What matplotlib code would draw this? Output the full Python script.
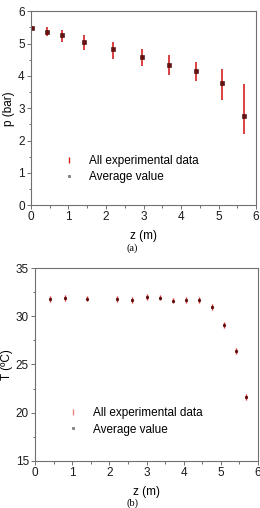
import numpy as np
import matplotlib.pyplot as plt
from matplotlib.lines import Line2D

# pressure profile (a)
z_p = [0.02, 0.42, 0.82, 1.41, 2.19, 2.97, 3.69, 4.40, 5.09, 5.69]
p_avg = [5.48, 5.36, 5.25, 5.04, 4.82, 4.57, 4.35, 4.15, 3.77, 2.75]
p_min = [5.43, 5.22, 5.06, 4.80, 4.52, 4.32, 4.04, 3.85, 3.26, 2.20]
p_max = [5.53, 5.50, 5.41, 5.25, 5.06, 4.82, 4.64, 4.43, 4.22, 3.74]

# temperature profile (b)
z_T = [0.40, 0.81, 1.40, 2.20, 2.60, 3.00, 3.35, 3.70, 4.05, 4.40, 4.76, 5.10, 5.42, 5.69]
T_avg = [31.78, 31.88, 31.85, 31.82, 31.67, 32.02, 31.95, 31.64, 31.67, 31.67, 30.98, 29.10, 26.44, 21.60]
T_min = [t - 0.3 for t in T_avg]
T_max = [t + 0.3 for t in T_avg]

plt.rcParams['font.family'] = ['Liberation Sans', 'DejaVu Sans']
fs = 8.5
grey = '#707070'

fig = plt.figure(figsize=(2.6, 5.08), dpi=100)
ax1 = fig.add_axes([0.119, 0.596, 0.866, 0.382])
ax2 = fig.add_axes([0.135, 0.093, 0.857, 0.379])


def style(ax):
    for s in ax.spines.values():
        s.set_color(grey)
        s.set_linewidth(0.8)
    ax.tick_params(which='both', direction='out', colors=grey, labelcolor='#1a1a1a',
                   labelsize=fs, width=0.7, pad=1.5)
    ax.tick_params(which='major', length=3)
    ax.tick_params(which='minor', length=1.8)
    ax.set_xlim(0, 6)
    ax.set_xticks(np.arange(0, 7, 1))
    ax.set_xticks(np.arange(0.5, 6, 1), minor=True)


def legend(ax, y0, red):
    handles = [Line2D([], [], ls='none', marker='|', ms=4, mew=1.0, color=red),
               Line2D([], [], ls='none', marker='s', ms=2, mfc='#888888', mec='#555555', mew=0.4)]
    ax.legend(handles, ['All experimental data', 'Average value'],
              loc='lower left', bbox_to_anchor=(0.115, y0), frameon=False, fontsize=fs,
              handlelength=1.0, handletextpad=1.2, labelspacing=0.35, borderpad=0)


# (a)
ax1.vlines(z_p, p_min, p_max, color='#d62020', lw=1.2)
ax1.plot(z_p, p_avg, 's', ms=2.2, mfc='#6a0e0e', mec='#3a0a0a', mew=0.4, ls='none')
style(ax1)
ax1.set_ylim(0, 6)
ax1.set_yticks(np.arange(0, 7, 1))
ax1.set_yticks(np.arange(0.5, 6, 1), minor=True)
ax1.set_xlabel('z (m)', fontsize=fs, labelpad=5)
ax1.set_ylabel('p (bar)', fontsize=fs, labelpad=2)
legend(ax1, 0.085, '#d62020')

# (b)
ax2.vlines(z_T, T_min, T_max, color='#e03030', lw=1.0)
ax2.plot(z_T, T_avg, 'o', ms=2.0, mfc='#5a0808', mec='#4a0808', mew=0.3, ls='none')
style(ax2)
ax2.set_ylim(15, 35)
ax2.set_yticks(np.arange(15, 36, 5))
ax2.set_yticks(np.arange(17.5, 35, 5), minor=True)
ax2.set_xlabel('z (m)', fontsize=fs, labelpad=5)
ax2.set_ylabel('T (ºC)', fontsize=fs, labelpad=2)
legend(ax2, 0.10, '#f08080')

fig.text(0.51, 1 - 248 / 508, '(a)', ha='center', va='center', fontsize=7.5,
         family='Liberation Serif')
fig.text(0.51, 1 - 503 / 508, '(b)', ha='center', va='center', fontsize=7.5,
         family='Liberation Serif')

fig.savefig('out.png', dpi=100)
